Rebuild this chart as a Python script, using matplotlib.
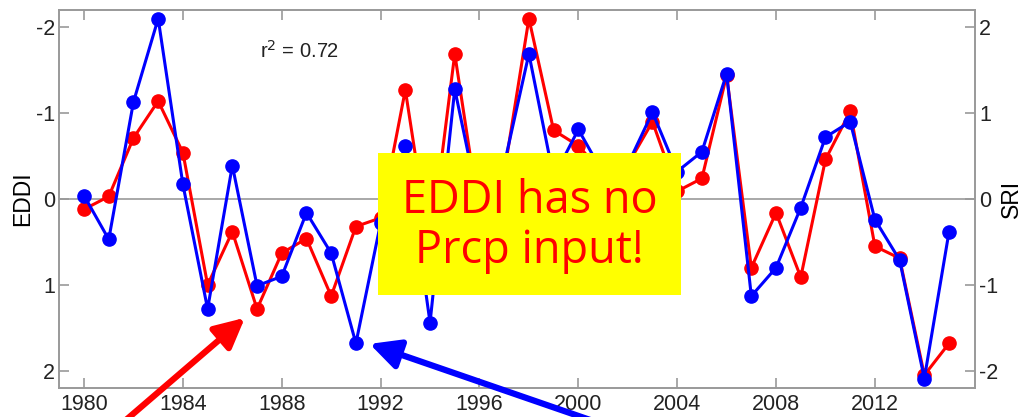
import matplotlib.pyplot as plt
from matplotlib.patches import FancyArrowPatch, Rectangle

# data
years = list(range(1980, 2016))
eddi = [0.12, -0.03, -0.71, -1.14, -0.54, 1.00, 0.38, 1.28, 0.63, 0.46,
        1.13, 0.32, 0.22, -1.27, 0.60, -1.69, 0.20, -0.30, -2.10, -0.80,
        -0.62, -0.30, -0.40, -0.90, -0.09, -0.24, -1.44, 0.80, 0.16, 0.91,
        -0.46, -1.02, 0.55, 0.69, 2.05, 1.68]
sri = [0.04, -0.47, 1.13, 2.10, 0.17, -1.28, 0.39, -1.01, -0.90, -0.16,
       -0.63, -1.68, -0.28, 0.62, -1.44, 1.28, -0.10, 0.40, 1.69, 0.25,
       0.81, 0.30, 0.40, 1.01, 0.32, 0.55, 1.46, -1.13, -0.80, -0.10,
       0.72, 0.90, -0.24, -0.71, -2.09, -0.38]
xticks = [1980, 1984, 1988, 1992, 1996, 2000, 2004, 2008, 2012]
yticks = [-2, -1, 0, 1, 2]

plt.rcParams['font.family'] = ['Liberation Sans', 'DejaVu Sans']
fig = plt.figure(figsize=(10.30, 4.17), dpi=100)
ax = fig.add_axes([0.0576, 0.0695, 0.889, 0.9065])
ax2 = ax.twinx()

frame = '#999999'
ax.axhline(0, color='#999999', lw=1.2, zorder=1)
ax.plot(years, eddi, color='#ff0000', lw=2.2, marker='o', ms=9.5, zorder=3)
ax2.plot(years, sri, color='#0000ff', lw=2.2, marker='o', ms=9.5, zorder=4)

ax.set_xlim(1979, 2016.05)
ax.set_ylim(2.2, -2.2)
ax2.set_ylim(-2.2, 2.2)
ax.set_xticks(xticks)
ax.set_yticks(yticks)
ax2.set_yticks(yticks)
ax.set_yticklabels([str(t) for t in yticks])
ax2.set_yticklabels([str(t) for t in yticks])
ax.set_ylabel('EDDI', fontsize=16.5, labelpad=1)
ax2.set_ylabel('SRI', fontsize=16.5, labelpad=1)

for a in (ax, ax2):
    for s in a.spines.values():
        s.set_color(frame)
        s.set_linewidth(1.2)
    a.tick_params(direction='in', length=7, width=1.2, color=frame,
                  labelsize=15.5, labelcolor='#222222')
ax.tick_params(axis='x', top=True, pad=4)
ax.tick_params(axis='y', pad=3)
ax2.tick_params(axis='y', pad=3)

ax.text(1988.7, -1.73, r'r$^2$ = 0.72', fontsize=14.5, color='#222222',
        ha='center', va='center')

# arrows and yellow note box, in figure pixels
def px(x, y):
    return (x / 1030, 1 - y / 417)

box_x0, box_y0 = px(378, 295)
fig.patches.append(Rectangle((box_x0, box_y0), 303 / 1030, 142 / 417,
                             transform=fig.transFigure, facecolor='#ffff00',
                             edgecolor='none', zorder=10))
fig.text(529.5 / 1030, 1 - 226 / 417, 'EDDI has no\nPrcp input!',
         ha='center', va='center', fontsize=32.5, color='#ff0000',
         family=['Open Sans', 'DejaVu Sans'], linespacing=1.1, zorder=11)

for tail, tip, col in [((112, 432), (247, 316), '#ff0000'),
                       ((625, 432), (367, 343), '#0000ff')]:
    arr = FancyArrowPatch(px(*tail), px(*tip), transform=fig.transFigure,
                          arrowstyle='-|>,head_length=18,head_width=9',
                          color=col, lw=4.5, mutation_scale=1, zorder=12)
    fig.patches.append(arr)

fig.savefig('out.png', dpi=100)
